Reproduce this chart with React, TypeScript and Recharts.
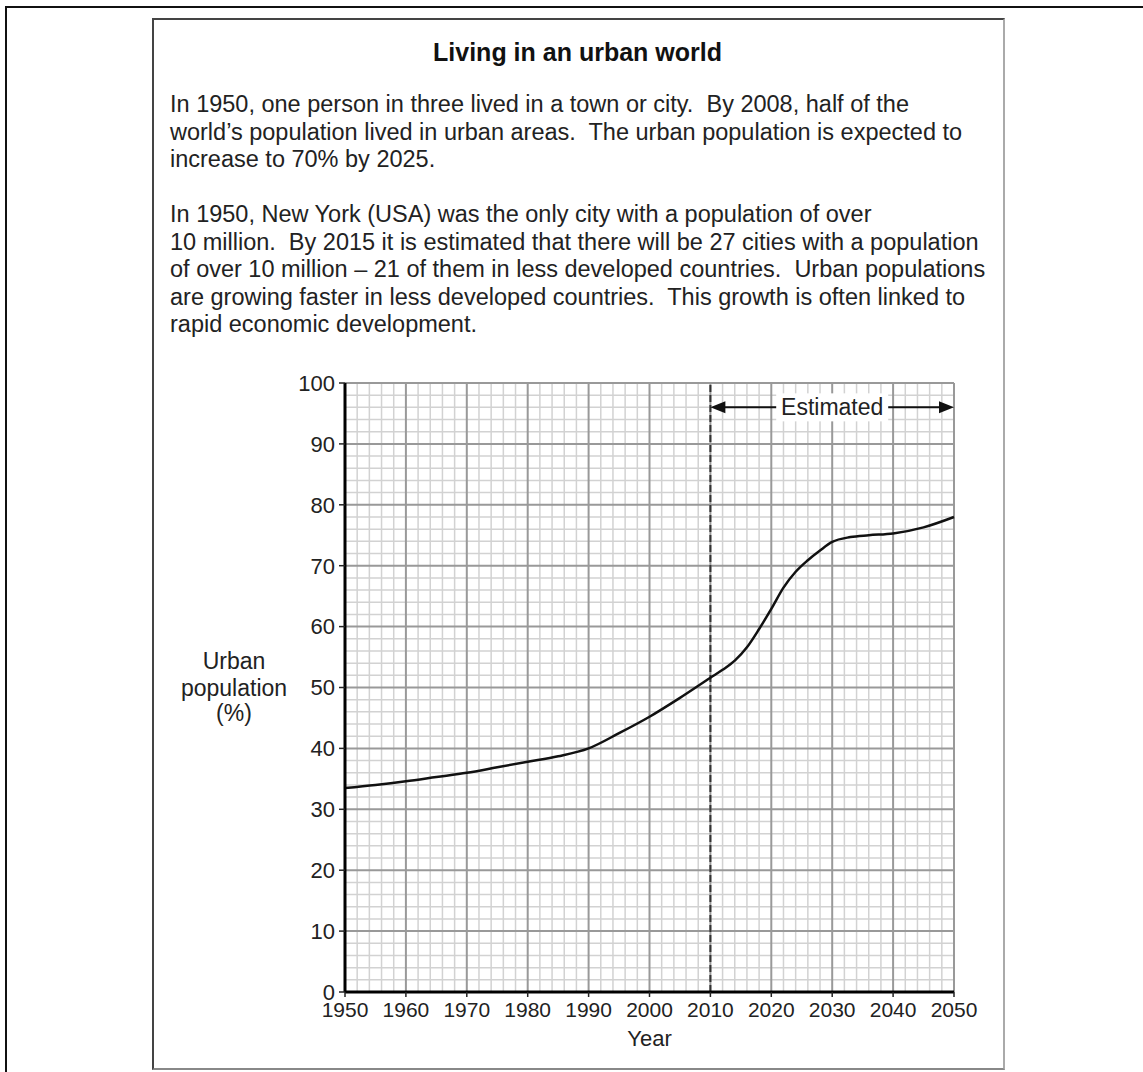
import { LineChart, Line, XAxis, YAxis, CartesianGrid, ReferenceLine, ReferenceDot } from "recharts";

const years = [1950, 1955, 1960, 1965, 1970, 1975, 1980, 1985, 1990, 1995, 2000, 2005, 2010, 2012, 2014, 2016, 2018, 2020, 2022, 2024, 2026, 2028, 2030, 2033, 2036, 2040, 2045, 2050];
const urbanPct = [33.5, 34.0, 34.6, 35.3, 36.0, 36.9, 37.8, 38.7, 40.0, 42.5, 45.2, 48.3, 51.6, 52.9, 54.4, 56.6, 59.6, 62.9, 66.4, 69.0, 70.9, 72.5, 73.9, 74.7, 75.0, 75.3, 76.3, 78.0];

const xTicks = [1950, 1960, 1970, 1980, 1990, 2000, 2010, 2020, 2030, 2040, 2050];
const yTicks = [0, 10, 20, 30, 40, 50, 60, 70, 80, 90, 100];
const xMinor = [1952, 1954, 1956, 1958, 1962, 1964, 1966, 1968, 1972, 1974, 1976, 1978, 1982, 1984, 1986, 1988, 1992, 1994, 1996, 1998, 2002, 2004, 2006, 2008, 2012, 2014, 2016, 2018, 2022, 2024, 2026, 2028, 2032, 2034, 2036, 2038, 2042, 2044, 2046, 2048];
const yMinor = [2, 4, 6, 8, 12, 14, 16, 18, 22, 24, 26, 28, 32, 34, 36, 38, 42, 44, 46, 48, 52, 54, 56, 58, 62, 64, 66, 68, 72, 74, 76, 78, 82, 84, 86, 88, 92, 94, 96, 98];
const xMajor = [1960, 1970, 1980, 1990, 2000, 2010, 2020, 2030, 2040, 2050];
const yMajor = [10, 20, 30, 40, 50, 60, 70, 80, 90, 100];

const estimateStart = 2010;
const estimateEnd = 2050;
const estimateLevel = 96;

const title = "Living in an urban world";
const para1 = [
  "In 1950, one person in three lived in a town or city.  By 2008, half of the",
  "world\u2019s population lived in urban areas.  The urban population is expected to",
  "increase to 70% by 2025.",
];
const para2 = [
  "In 1950, New York (USA) was the only city with a population of over",
  "10 million.  By 2015 it is estimated that there will be 27 cities with a population",
  "of over 10 million \u2013 21 of them in less developed countries.  Urban populations",
  "are growing faster in less developed countries.  This growth is often linked to",
  "rapid economic development.",
];

const data = years.map((year, i) => ({ year, urban: urbanPct[i] }));

const font = "'Liberation Sans', Arial, Helvetica, sans-serif";

function YLabel(props: any) {
  const vb = props.viewBox;
  const cx = vb.x - 51;
  const cy = vb.y + vb.height / 2;
  return (
    <text x={cx} textAnchor="middle" fontSize={23} fontFamily={font} fill="#222">
      <tspan x={cx} y={cy - 19}>Urban</tspan>
      <tspan x={cx} y={cy + 8}>population</tspan>
      <tspan x={cx} y={cy + 33}>(%)</tspan>
    </text>
  );
}

function XLabel(props: any) {
  const vb = props.viewBox;
  return (
    <text x={vb.x + vb.width / 2} y={vb.y + 54} textAnchor="middle" fontSize={22} fontFamily={font} fill="#222">
      Year
    </text>
  );
}

function EstimatedArrow(props: any) {
  const { x1, y1, x2, y2 } = props;
  return (
    <g>
      <line x1={x1 + 10} y1={y1} x2={x2 - 10} y2={y2} stroke="#111" strokeWidth={2} />
      <polygon points={`${x1},${y1} ${x1 + 15},${y1 - 6} ${x1 + 15},${y1 + 6}`} fill="#111" />
      <polygon points={`${x2},${y2} ${x2 - 15},${y2 - 6} ${x2 - 15},${y2 + 6}`} fill="#111" />
    </g>
  );
}

function EstimatedText(props: any) {
  const { cx, cy } = props;
  return (
    <g>
      <rect x={cx - 56} y={cy - 14} width={112} height={28} fill="#fff" />
      <text x={cx} y={cy + 8} textAnchor="middle" fontSize={23} fontFamily={font} fill="#222">
        Estimated
      </text>
    </g>
  );
}

export default function App() {
  return (
    <div style={{ position: "absolute", left: 0, top: 0, width: 1143, height: 1072, overflow: "hidden", background: "#fff", fontFamily: font }}>
      <div style={{ position: "absolute", left: 5, top: 6, width: 1300, height: 1300, border: "2px solid #111" }} />
      <div
        style={{
          position: "absolute",
          left: 152,
          top: 18,
          width: 849,
          height: 1048,
          borderLeft: "2px solid #444",
          borderTop: "2px solid #444",
          borderRight: "2px solid #aaa",
          borderBottom: "2px solid #888",
        }}
      />
      <div style={{ position: "absolute", left: 152, top: 38, width: 851, textAlign: "center", fontSize: 25, fontWeight: "bold", color: "#111" }}>
        {title}
      </div>
      <div style={{ position: "absolute", left: 170, top: 91, fontSize: 23.5, lineHeight: "27.5px", whiteSpace: "pre", color: "#222" }}>
        {para1.map((l) => (
          <div key={l}>{l}</div>
        ))}
        <div style={{ height: 27.5 }} />
        {para2.map((l) => (
          <div key={l}>{l}</div>
        ))}
      </div>
      <div style={{ position: "absolute", left: 0, top: 0 }}>
        <LineChart width={1143} height={1072} data={data} margin={{ top: 383, right: 189, left: 285, bottom: 50 }}>
          <CartesianGrid verticalValues={xMinor} horizontalValues={yMinor} stroke="#d2d2d2" strokeWidth={1.5} />
          <CartesianGrid verticalValues={xMajor} horizontalValues={yMajor} stroke="#999" strokeWidth={2} />
          <XAxis
            dataKey="year"
            type="number"
            domain={[1950, 2050]}
            ticks={xTicks}
            interval={0}
            height={30}
            tickSize={5}
            tickMargin={5}
            axisLine={{ stroke: "#000", strokeWidth: 3 }}
            tickLine={{ stroke: "#222", strokeWidth: 1.5 }}
            tick={{ fontSize: 21, fontFamily: font, fill: "#222" }}
            label={<XLabel />}
          />
          <YAxis
            type="number"
            domain={[0, 100]}
            ticks={yTicks}
            interval={0}
            width={60}
            tickSize={6}
            tickMargin={4}
            axisLine={{ stroke: "#000", strokeWidth: 3 }}
            tickLine={{ stroke: "#222", strokeWidth: 1.5 }}
            tick={{ fontSize: 22, fontFamily: font, fill: "#222" }}
            label={<YLabel />}
          />
          <ReferenceLine x={estimateStart} stroke="#333" strokeWidth={2} strokeDasharray="7 3" />
          <ReferenceLine
            segment={[
              { x: estimateStart, y: estimateLevel },
              { x: estimateEnd, y: estimateLevel },
            ]}
            shape={<EstimatedArrow />}
          />
          <ReferenceDot x={2030} y={estimateLevel} shape={<EstimatedText />} />
          <Line type="monotone" dataKey="urban" stroke="#111" strokeWidth={2.5} dot={false} isAnimationActive={false} />
        </LineChart>
      </div>
    </div>
  );
}
